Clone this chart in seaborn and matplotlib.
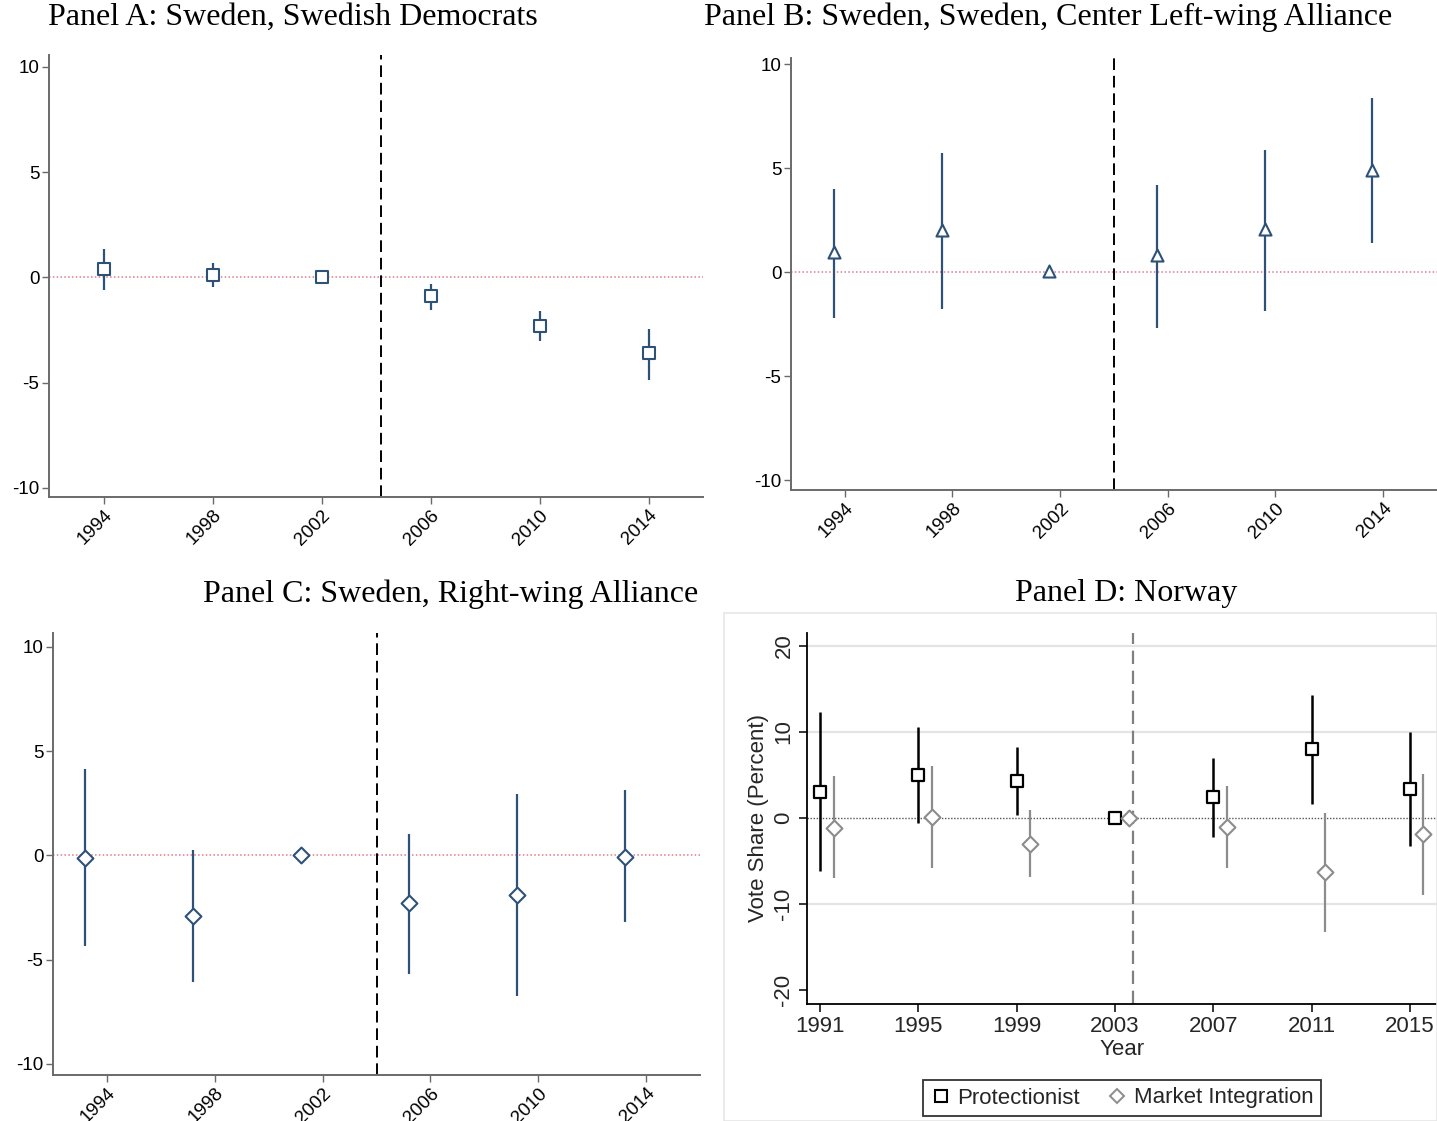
import numpy as np
import pandas as pd
import matplotlib
matplotlib.use("Agg")
import matplotlib.pyplot as plt
import seaborn as sns
from matplotlib.patches import Rectangle
from matplotlib.lines import Line2D

sns.set_theme(style="white")
plt.rcParams['font.family'] = ['Liberation Sans', 'DejaVu Sans']

# ---------------- data ----------------
years_se = [1994, 1998, 2002, 2006, 2010, 2014]

a_est = [0.4, 0.1, 0.0, -0.9, -2.3, -3.6]
a_lo = [-0.6, -0.45, 0.0, -1.55, -3.0, -4.85]
a_hi = [1.35, 0.7, 0.0, -0.3, -1.6, -2.45]

b_est = [0.95, 2.0, 0.05, 0.8, 2.05, 4.9]
b_lo = [-2.2, -1.8, 0.05, -2.7, -1.85, 1.4]
b_hi = [4.0, 5.7, 0.05, 4.2, 5.85, 8.35]

c_est = [-0.1, -2.9, 0.0, -2.3, -1.9, -0.05]
c_lo = [-4.35, -6.05, 0.0, -5.7, -6.75, -3.2]
c_hi = [4.15, 0.25, 0.0, 1.05, 2.95, 3.15]

years_no = [1991, 1995, 1999, 2003, 2007, 2011, 2015]
prot_est = [3.0, 5.0, 4.3, 0.0, 2.4, 8.0, 3.4]
prot_lo = [-6.2, -0.6, 0.4, 0.0, -2.2, 1.6, -3.3]
prot_hi = [12.3, 10.6, 8.3, 0.0, 7.0, 14.3, 10.0]

mkt_est = [-1.1, 0.15, -3.0, 0.0, -1.0, -6.3, -1.9]
mkt_lo = [-7.0, -5.8, -6.8, 0.0, -5.8, -13.2, -8.9]
mkt_hi = [4.9, 6.0, 0.9, 0.0, 3.7, 0.6, 5.1]

titles = ["Panel A: Sweden, Swedish Democrats",
          "Panel B: Sweden, Sweden, Center Left-wing Alliance",
          "Panel C: Sweden, Right-wing Alliance",
          "Panel D: Norway"]

NAVY = "#2e5277"
PINK = "#e07a8c"

W, H = 1437, 1121
fig = plt.figure(figsize=(W / 100, H / 100), dpi=100)


def rect(l, t, r, b):
    return [l / W, 1 - b / H, (r - l) / W, (b - t) / H]


def sweden_panel(ax, est, lo, hi, shift, marker, msize, title, ylim, title_xy, vline):
    x = [y + shift for y in years_se]
    df = pd.DataFrame({"x": x, "est": est, "lo": lo, "hi": hi})
    ax.vlines(df["x"], df["lo"], df["hi"], color=NAVY, lw=1.6, zorder=2)
    ax.axhline(0, color=PINK, lw=1.1, ls=(0, (1, 1.5)), zorder=1)
    ax.axvline(vline, color="black", lw=1.4, ls=(0, (6, 3)), zorder=1)
    sns.scatterplot(data=df, x="x", y="est", ax=ax, marker=marker, s=msize,
                    facecolor="white", edgecolor=NAVY, linewidth=1.5, zorder=3,
                    legend=False)
    ax.set_xlim(1992, 2016)
    ax.set_ylim(*ylim)
    ax.set_xticks(years_se)
    ax.set_xticklabels([str(y) for y in years_se], rotation=45, ha="right",
                       rotation_mode="anchor", fontsize=13.5)
    ax.set_yticks([-10, -5, 0, 5, 10])
    ax.set_yticklabels(["-10", "-5", "0", "5", "10"], fontsize=13.5)
    ax.set_xlabel("")
    ax.set_ylabel("")
    for s in ["top", "right"]:
        ax.spines[s].set_visible(False)
    for s in ["left", "bottom"]:
        ax.spines[s].set_color("#6a6a6a")
        ax.spines[s].set_linewidth(1.4)
    ax.tick_params(axis="both", direction="out", length=5, width=1.0,
                   color="#6a6a6a", pad=2, left=True, bottom=True, labelcolor="black")
    fig.text(title_xy[0] / W, 1 - title_xy[1] / H, title, ha="center", va="center",
             fontsize=23, family="Liberation Serif", color="black")


axA = fig.add_axes(rect(49, 55, 703, 497))
sweden_panel(axA, a_est, a_lo, a_hi, 0.0, "s", 70, titles[0], (-10.43, 10.57),
             (293, 17), 2004.2)

axB = fig.add_axes(rect(791, 58, 1437, 490))
sweden_panel(axB, b_est, b_lo, b_hi, -0.4, "^", 75, titles[1], (-10.48, 10.29),
             (1048, 17), 2004.0)

axC = fig.add_axes(rect(53, 633, 700, 1075))
sweden_panel(axC, c_est, c_lo, c_hi, -0.8, "D", 65, titles[2], (-10.53, 10.67),
             (451, 594), 2004.0)

# ---------------- Panel D ----------------
fig.patches.append(Rectangle((724 / W, 0), (W - 724) / W, 1 - 613 / H,
                             transform=fig.transFigure, fill=False,
                             edgecolor="#e6e6e6", lw=1.2, zorder=0))

axD = fig.add_axes(rect(807, 633, 1437, 1004))
GRAY = "#8c8c8c"
dfp = pd.DataFrame({"x": years_no, "est": prot_est, "lo": prot_lo, "hi": prot_hi,
                    "group": "Protectionist"})
dfm = pd.DataFrame({"x": [y + 0.55 for y in years_no], "est": mkt_est, "lo": mkt_lo,
                    "hi": mkt_hi, "group": "Market Integration"})

for g in [20, 10, -10]:
    axD.axhline(g, color="#e4e4e4", lw=1.6, zorder=0)
axD.axhline(0, color="#555555", lw=1.0, ls=(0, (1, 1.2)), zorder=1)
axD.axvline(2003.73, color="#808080", lw=1.6, ls=(0, (6, 3)), zorder=1)
axD.vlines(dfp["x"], dfp["lo"], dfp["hi"], color="black", lw=1.8, zorder=2)
axD.vlines(dfm["x"], dfm["lo"], dfm["hi"], color=GRAY, lw=1.6, zorder=2)
sns.scatterplot(data=dfp, x="x", y="est", ax=axD, marker="s", s=75,
                facecolor="white", edgecolor="black", linewidth=1.6, zorder=3,
                legend=False)
sns.scatterplot(data=dfm, x="x", y="est", ax=axD, marker="D", s=65,
                facecolor="white", edgecolor=GRAY, linewidth=1.5, zorder=3,
                legend=False)
axD.set_xlim(1990.47, 2016.1)
axD.set_ylim(-21.6, 21.5)
axD.set_xticks(years_no)
axD.set_xticklabels([str(y) for y in years_no], fontsize=16)
axD.set_yticks([-20, -10, 0, 10, 20])
axD.set_yticklabels(["-20", "-10", "0", "10", "20"], fontsize=16, rotation=90,
                    va="center")
axD.set_xlabel("Year", fontsize=16, labelpad=1)
axD.set_ylabel("Vote Share (Percent)", fontsize=16, labelpad=3)
for s in ["top", "right"]:
    axD.spines[s].set_visible(False)
for s in ["left", "bottom"]:
    axD.spines[s].set_color("black")
    axD.spines[s].set_linewidth(1.3)
axD.tick_params(axis="both", direction="out", length=6, width=1.1, color="black",
                pad=3, left=True, bottom=True)
fig.text(1126 / W, 1 - 594 / H, titles[3], ha="center", va="center",
         fontsize=23, family="Liberation Serif", color="black")

handles = [Line2D([], [], marker="s", ls="none", mfc="white", mec="black", mew=1.5, ms=8),
           Line2D([], [], marker="D", ls="none", mfc="white", mec=GRAY, mew=1.4, ms=7.5)]
leg = fig.legend(handles, ["Protectionist", "Market Integration"], ncol=2,
                 loc="center", bbox_to_anchor=(1122 / W, 1 - 1098 / H),
                 fontsize=16, frameon=True, fancybox=False, handletextpad=0.3,
                 columnspacing=1.2, handlelength=0.9, borderpad=0.35)
leg.get_frame().set_edgecolor("black")
leg.get_frame().set_linewidth(1.3)

fig.savefig("out.png", dpi=100, facecolor="white")
